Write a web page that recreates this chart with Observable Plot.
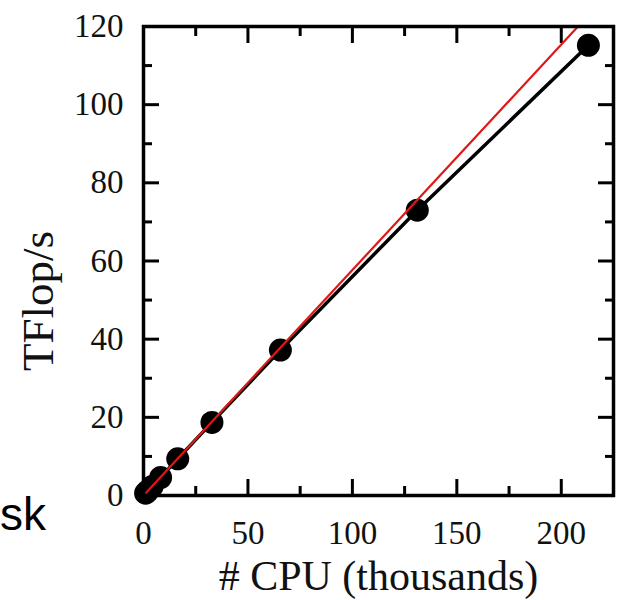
<!DOCTYPE html>
<html>
<head>
<meta charset="utf-8">
<script src="https://cdn.jsdelivr.net/npm/d3@7"></script>
<script src="https://cdn.jsdelivr.net/npm/@observablehq/plot@0.6"></script>
<style>
  html, body { margin: 0; padding: 0; background: #fff; }
  #chart { width: 618px; height: 600px; overflow: hidden; }
</style>
</head>
<body>
<div id="chart"></div>
<script>
// Data (thousands of CPUs vs TFlop/s)
const cpus   = [1.024, 2.048, 4.096, 8.192, 16.384, 32.768, 65.536, 131.072, 212.992];
const tflops = [0.58, 1.15, 2.3, 4.6, 9.4, 18.7, 37.2, 73.0, 115.2];
// Ideal linear-scaling reference line (red)
const idealX = [0, 208];
const idealY = [0, 120];
// Ticks
const xMajor = [0, 50, 100, 150, 200];
const xMinor = [25, 75, 125, 175, 225];
const yMajor = [0, 20, 40, 60, 80, 100, 120];
const yMinor = [10, 30, 50, 70, 90, 110];
const xTitle = "# CPU (thousands)";
const yTitle = "TFlop/s";
const sideText = "sk";

const points = cpus.map((c, i) => ({x: c, y: tflops[i]}));
const ideal = idealX.map((x, i) => ({x, y: idealY[i]}));

const serif = "'Liberation Serif', 'Times New Roman', serif";
const major = 16, minor = 9, tw = 3;

const chart = Plot.plot({
  width: 618,
  height: 600,
  marginLeft: 143,
  marginRight: 5,
  marginTop: 26,
  marginBottom: 105,
  style: {fontFamily: serif, background: "#fff", color: "#000"},
  x: {domain: [0, 225]},
  y: {domain: [0, 120]},
  marks: [
    // inward ticks on all four sides
    Plot.axisX(xMajor, {anchor: "bottom", tickSize: -major, strokeWidth: tw, text: null, label: null}),
    Plot.axisX(xMinor, {anchor: "bottom", tickSize: -minor, strokeWidth: tw, text: null, label: null}),
    Plot.axisX(xMajor, {anchor: "top", tickSize: -major, strokeWidth: tw, text: null, label: null}),
    Plot.axisX(xMinor, {anchor: "top", tickSize: -minor, strokeWidth: tw, text: null, label: null}),
    Plot.axisY(yMajor, {anchor: "left", tickSize: -major, strokeWidth: tw, text: null, label: null}),
    Plot.axisY(yMinor, {anchor: "left", tickSize: -minor, strokeWidth: tw, text: null, label: null}),
    Plot.axisY(yMajor, {anchor: "right", tickSize: -major, strokeWidth: tw, text: null, label: null}),
    Plot.axisY(yMinor, {anchor: "right", tickSize: -minor, strokeWidth: tw, text: null, label: null}),
    // tick labels
    Plot.axisX(xMajor, {anchor: "bottom", tickSize: 0, tickPadding: 25, fontSize: 33, fill: "#111", label: null}),
    Plot.axisY(yMajor, {anchor: "left", tickSize: 0, tickPadding: 20, fontSize: 33, fill: "#111", label: null}),
    // data
    Plot.line(points, {x: "x", y: "y", stroke: "#000", strokeWidth: 3.5}),
    Plot.dot(points, {x: "x", y: "y", r: 11.5, fill: "#000", stroke: "none"}),
    Plot.line(ideal, {x: "x", y: "y", stroke: "#e01818", strokeWidth: 2.2, clip: true}),
    Plot.frame({stroke: "#000", strokeWidth: 3.5}),
    // titles
    Plot.text([xTitle], {frameAnchor: "bottom", textAnchor: "middle", lineAnchor: "middle", dy: 81, fontSize: 42, fill: "#111"}),
    Plot.text([yTitle], {frameAnchor: "left", textAnchor: "middle", lineAnchor: "middle", rotate: -90, dx: -105, dy: 40, fontSize: 45, fill: "#111"})
  ]
});

document.getElementById("chart").appendChild(chart);

// cropped fragment of slide text at lower-left
d3.select(chart).append("text")
  .attr("x", 0).attr("y", 530)
  .attr("text-anchor", "start")
  .attr("font-family", "'Liberation Sans', Arial, sans-serif")
  .attr("font-size", 46)
  .attr("fill", "#000")
  .text(sideText);
</script>
</body>
</html>
